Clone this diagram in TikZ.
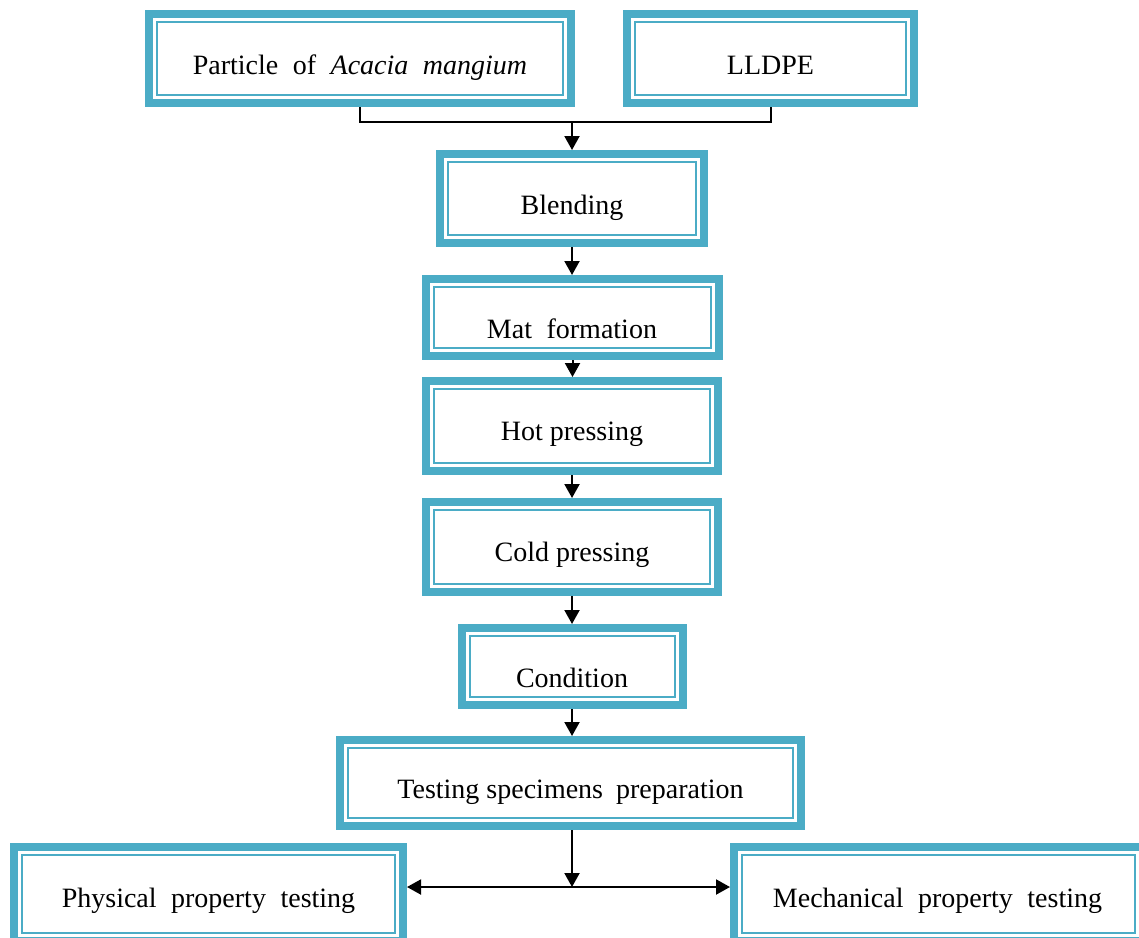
\documentclass[tikz,border=0pt]{standalone}
\usepackage{fontspec}
\setmainfont{Liberation Serif}
\usetikzlibrary{arrows.meta}
\definecolor{boxteal}{HTML}{4BACC6}
\newcommand\widesp{\hspace{7.5pt}}
\tikzset{
  flowbox/.style={draw=boxteal, line width=8pt, rectangle, inner sep=0pt},
  innerline/.style={draw=boxteal, line width=2pt},
  txt/.style={font=\fontsize{28}{32}\selectfont, inner sep=0pt, anchor=base},
  conn/.style={draw=black, line width=2pt},
  arr/.style={conn, -{Triangle[length=14pt,width=15pt]}},
  arrboth/.style={conn, {Triangle[length=14pt,width=15pt]}-{Triangle[length=14pt,width=15pt]}},
}
% \mkbox{name}{x1}{y1}{x2}{y2}  (outer edges)
\newcommand\mkbox[5]{%
  \node[flowbox, minimum width={(#4-#2-8)*1pt}, minimum height={(#5-#3-8)*1pt}] (#1) at ({(#2+#4)/2},{(#3+#5)/2}) {};
  \draw[innerline] ([xshift=12pt,yshift=-12pt]#1.north west) rectangle ([xshift=-12pt,yshift=12pt]#1.south east);
}
\begin{document}
\begin{tikzpicture}[x=1pt,y=-1pt]
\clip (0,0) rectangle (1139,937);
\fill[white] (0,0) rectangle (1139,937);

\mkbox{part}{145}{10}{575}{107}
\mkbox{lldpe}{623}{10}{918}{107}
\mkbox{blend}{436}{150}{708}{247}
\mkbox{mat}{422}{275}{723}{360}
\mkbox{hot}{422}{377}{722}{475}
\mkbox{cold}{422}{498}{722}{596}
\mkbox{cond}{458}{624}{687}{709}
\mkbox{tsp}{336}{736}{805}{830}
\mkbox{phys}{10}{843}{407}{945}
\mkbox{mech}{730}{843}{1147}{945}

\node[txt] (tpart) at (360,74) {Particle\widesp{} of\widesp{} \textit{Acacia}\widesp{} \textit{mangium}};
\node[txt] (tlldpe) at (770.5,74) {LLDPE};
\node[txt] (tblend) at (572,214) {Blending};
\node[txt] (tmat) at (572,338) {Mat\widesp{} formation};
\node[txt] (thot) at (572,440) {Hot pressing};
\node[txt] (tcold) at (572,561) {Cold pressing};
\node[txt] (tcond) at (572,687) {Condition};
\node[txt] (ttsp) at (570.5,798) {Testing specimens\hspace{6pt} preparation};
\node[txt] (tphys) at (208.5,907) {Physical\widesp{} property\widesp{} testing};
\node[txt] (tmech) at (937.5,907) {Mechanical\widesp{} property\widesp{} testing};

\coordinate (j) at (572,122);
\draw[conn] (part.south) -- (part.south |- j) -| (lldpe.south);
\draw[arr] (j) -- (blend.north);
\draw[arr] (blend.south) -- (mat.north -| blend.south);
\draw[arr] (mat.south) -- (hot.north -| mat.south);
\draw[arr] (hot.south) -- (cold.north);
\draw[arr] (cold.south) -- (cond.north -| cold.south);
\draw[arr] (cond.south -| cold.south) -- (tsp.north -| cold.south);
\coordinate (k) at (572,887);
\draw[arr] (tsp.south -| k) -- (k);
\draw[arrboth] (phys.east |- k) -- (mech.west |- k);
\end{tikzpicture}
\end{document}
